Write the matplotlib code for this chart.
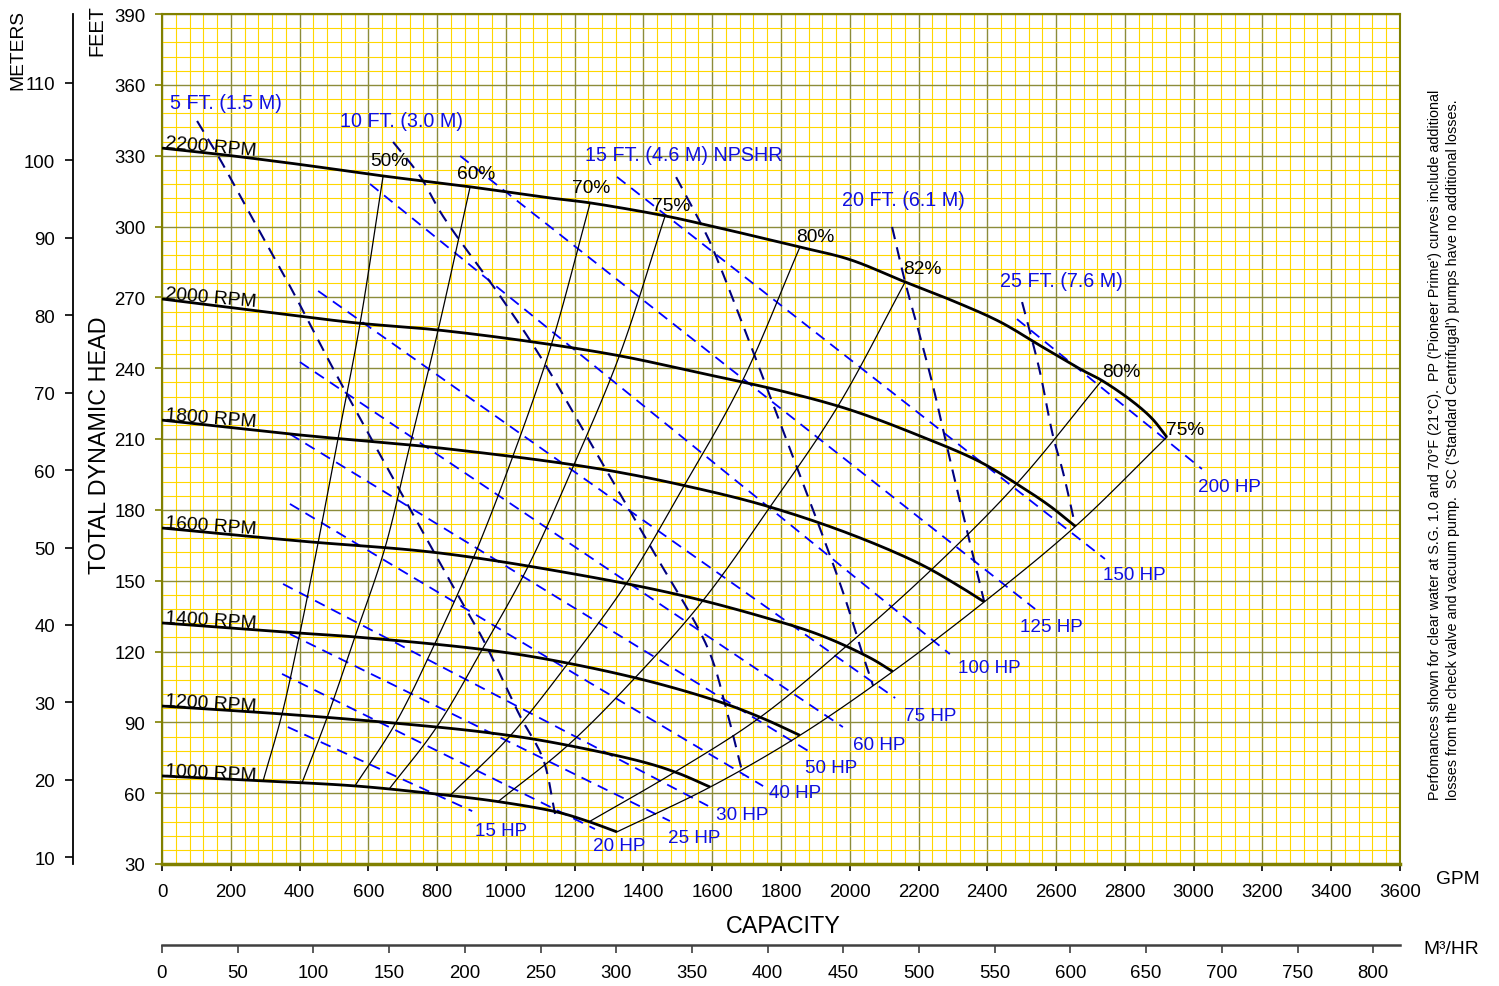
import matplotlib
matplotlib.use("Agg")
import matplotlib.pyplot as plt
import numpy as np

plt.rcParams['font.family'] = ['Liberation Sans', 'DejaVu Sans']

W, H = 1499, 987

# head / capacity curves, GPM and feet
speeds = ["2200 RPM", "2000 RPM", "1800 RPM", "1600 RPM", "1400 RPM", "1200 RPM", "1000 RPM"]
q2200 = [0, 160, 400, 643, 896, 1128, 1245, 1463, 1573, 1855, 2000, 2161, 2300, 2437, 2560, 2678, 2733, 2824, 2880, 2922]
h2200 = [333.2, 330.7, 326.3, 321.4, 316.8, 312.1, 310.0, 304.5, 301.0, 291.3, 286.0, 276.5, 268.5, 259.6, 249.0, 239.0, 234.8, 225.7, 218.5, 210.8]
q2000 = [0, 401, 576, 800, 1079, 1332, 1564, 1797, 2000, 2204, 2379, 2495, 2582, 2656]
h2000 = [269.3, 262.0, 259.0, 256.2, 251.1, 245.2, 238.0, 230.5, 222.4, 211.3, 200.3, 190.1, 181.6, 173.0]
q1800 = [0, 401, 808, 1274, 1564, 1768, 2000, 2204, 2320, 2391]
h1800 = [218.0, 211.7, 206.2, 197.3, 188.8, 181.2, 169.8, 157.1, 147.5, 141.0]
q1600 = [0, 401, 808, 1215, 1506, 1739, 1913, 2059, 2125]
h1600 = [172.3, 166.8, 161.7, 152.4, 143.9, 135.0, 127.0, 117.3, 111.5]
q1400 = [0, 401, 567, 925, 1128, 1400, 1623, 1750, 1855]
h1400 = [132.1, 127.8, 126.1, 121.0, 116.5, 108.0, 98.6, 91.5, 84.5]
q1200 = [0, 352, 643, 933, 1128, 1399, 1500, 1594]
h1200 = [96.9, 93.5, 90.1, 85.9, 81.7, 73.2, 68.5, 62.6]
q1000 = [0, 294, 567, 800, 983, 1149, 1236, 1323]
h1000 = [67.3, 65.2, 63.0, 59.6, 56.3, 52.0, 48.2, 43.6]
curves_q = [q2200, q2000, q1800, q1600, q1400, q1200, q1000]
curves_h = [h2200, h2000, h1800, h1600, h1400, h1200, h1000]
rpm_rot = [-5, -5, -4.5, -4, -3.5, -3.5, -3]

# efficiency lines: GPM where each crosses the speed curves (2200 ... 1000 RPM)
eff_labels = ["50%", "60%", "70%", "75%", "80%", "82%", "80%", "75%"]
eff_q = [
    [643, 576, 512, 454, 401, 349, 294],
    [896, 803, 721, 648, 561, 480, 407],
    [1245, 1132, 1019, 905, 792, 679, 561],
    [1463, 1330, 1197, 1064, 931, 798, 660],
    [1855, 1686, 1518, 1349, 1180, 1012, 837],
    [2161, 1965, 1768, 1572, 1375, 1179, 977],
    [2733, 2485, 2236, 1988, 1739, 1491, 1242],
    [2922, 2656, 2391, 2125, 1855, 1594, 1323],
]
eff_off = [(6, 15), (6, 13), (1, 15), (6, 10), (15, 11), (17, 13), (19, 9), (18, 8)]

# NPSHR lines
npsh_labels = ["5 FT. (1.5 M)", "10 FT. (3.0 M)", "15 FT. (4.6 M) NPSHR", "20 FT. (6.1 M)", "25 FT. (7.6 M)"]
npsh5_q = [102, 160, 256, 381, 509, 867, 933, 1041, 1108, 1143]
npsh5_h = [344.7, 330.7, 305.3, 272.3, 236.7, 142.2, 125.3, 92.7, 74.5, 51.2]
npsh10_q = [672, 750, 817, 983, 1099, 1265, 1428, 1588, 1643, 1690]
npsh10_h = [335.8, 321.4, 304.4, 270.6, 245.2, 203.6, 162.6, 121.1, 94.4, 67.3]
npsh15_q = [1495, 1573, 1602, 1826, 1977, 2039, 2068]
npsh15_h = [320.9, 299.5, 290.5, 205.8, 146.5, 118.1, 105.4]
npsh20_q = [2123, 2161, 2204, 2242, 2271, 2300, 2391]
npsh20_h = [299.8, 276.5, 253.6, 232.4, 214.2, 196.0, 141.0]
npsh25_q = [2501, 2524, 2553, 2591, 2620, 2656]
npsh25_h = [268.0, 255.3, 238.4, 211.3, 196.0, 173.0]
npsh_q = [npsh5_q, npsh10_q, npsh15_q, npsh20_q, npsh25_q]
npsh_h = [npsh5_h, npsh10_h, npsh15_h, npsh20_h, npsh25_h]
npsh_off = [(-27, 18), (-53, 21), (-91, 23), (-50, 27), (-22, 22)]

# horsepower lines: start and end points
hp_labels = ["15 HP", "20 HP", "25 HP", "30 HP", "40 HP", "50 HP", "60 HP", "75 HP",
             "100 HP", "125 HP", "150 HP", "200 HP"]
hp_q0 = [366, 349, 372, 352, 372, 372, 401, 454, 605, 867, 1323, 2486]
hp_h0 = [88.0, 110.5, 127.4, 148.6, 182.5, 212.1, 242.6, 272.7, 318.0, 329.9, 321.0, 260.8]
hp_q1 = [902, 1259, 1477, 1588, 1748, 1879, 1980, 2132, 2291, 2539, 2742, 3024]
hp_h1 = [52.4, 44.8, 48.2, 54.6, 63.0, 77.9, 88.0, 100.3, 118.9, 138.0, 159.2, 197.3]
hp_off = [(3, -19), (-2, -16), (-2, -16), (8, -9), (6, -6), (-3, -17), (10, -17), (9, -17),
          (8, -13), (-15, -17), (-2, -16), (-4, -18)]

gpm_ticks = np.arange(0, 3601, 200)
ft_ticks = np.arange(30, 391, 30)
m_ticks = np.arange(10, 111, 10)
m3h_ticks = np.arange(0, 801, 50)


def smooth(xs, ys, n=16):
    # smoothed line through the points (centripetal Catmull-Rom), like the spreadsheet original
    sx, sy = 1238 / 3600, 850 / 360
    P = np.column_stack([np.asarray(xs, float) * sx, np.asarray(ys, float) * sy])
    if len(P) < 3:
        return P[:, 0] / sx, P[:, 1] / sy
    P = np.vstack([2 * P[0] - P[1], P, 2 * P[-1] - P[-2]])
    out = [P[1]]
    for i in range(1, len(P) - 2):
        p0, p1, p2, p3 = P[i - 1], P[i], P[i + 1], P[i + 2]
        t0 = 0.0
        t1 = t0 + np.linalg.norm(p1 - p0) ** 0.5
        t2 = t1 + np.linalg.norm(p2 - p1) ** 0.5
        t3 = t2 + np.linalg.norm(p3 - p2) ** 0.5
        t = np.linspace(t1, t2, n)[1:, None]
        a1 = (t1 - t) / (t1 - t0) * p0 + (t - t0) / (t1 - t0) * p1
        a2 = (t2 - t) / (t2 - t1) * p1 + (t - t1) / (t2 - t1) * p2
        a3 = (t3 - t) / (t3 - t2) * p2 + (t - t2) / (t3 - t2) * p3
        b1 = (t2 - t) / (t2 - t0) * a1 + (t - t0) / (t2 - t0) * a2
        b2 = (t3 - t) / (t3 - t1) * a2 + (t - t1) / (t3 - t1) * a3
        c = (t2 - t) / (t2 - t1) * b1 + (t - t1) / (t2 - t1) * b2
        out.extend(c)
    out = np.array(out)
    return out[:, 0] / sx, out[:, 1] / sy


fig = plt.figure(figsize=(W / 100, H / 100), dpi=100)
ax = fig.add_axes([162 / W, 1 - 865 / H, 1238 / W, 850 / H])
ax.set_xlim(0, 3600)
ax.set_ylim(30, 390)
ax.set_xticks(gpm_ticks)
ax.set_xticks(np.arange(0, 3601, 40), minor=True)
ax.set_yticks(ft_ticks)
ax.set_yticks(np.arange(30, 391, 6), minor=True)
ax.grid(which='minor', color='#FFD700', lw=0.8)
ax.grid(which='major', color='#8c8c3a', lw=1.0)
ax.set_axisbelow(True)
ax.tick_params(which='minor', length=0)
ax.tick_params(axis='x', which='major', length=5, width=1.2, color='black', labelsize=13.4, pad=9)
ax.tick_params(axis='y', which='major', length=5, width=1.2, color='#808000', labelsize=13.4, pad=7)
for s in ax.spines.values():
    s.set_color('#808000')
    s.set_linewidth(1.5)
ax.spines['bottom'].set_linewidth(2.5)

# horsepower lines
dash = (0, (6, 4))
for lab, q0, h0, q1, h1, off in zip(hp_labels, hp_q0, hp_h0, hp_q1, hp_h1, hp_off):
    ax.plot([q0, q1], [h0, h1], color='#0000FF', lw=1.3, linestyle=dash, zorder=3)
    ax.annotate(lab, (q1, h1), xytext=off, textcoords='offset pixels',
                ha='left', va='center', color='#1010E0', fontsize=13.6, zorder=6)

# NPSHR lines
for lab, q, h, off in zip(npsh_labels, npsh_q, npsh_h, npsh_off):
    ax.plot(*smooth(q, h), color='#000080', lw=1.5, linestyle=dash, zorder=3)
    ax.annotate(lab, (q[0], h[0]), xytext=off, textcoords='offset pixels',
                ha='left', va='center', color='#1010E0', fontsize=14.2, zorder=6)

# efficiency lines
for lab, qs, off in zip(eff_labels, eff_q, eff_off):
    hs = [np.interp(q, cq, ch) for q, cq, ch in zip(qs, curves_q, curves_h)]
    ax.plot(*smooth(qs, hs), color='black', lw=0.9, zorder=4)
    ax.annotate(lab, (qs[0], hs[0]), xytext=off, textcoords='offset pixels',
                ha='center', va='center', color='black', fontsize=13.8, zorder=6)

# head curves
for lab, cq, ch, rot in zip(speeds, curves_q, curves_h, rpm_rot):
    ax.plot(*smooth(cq, ch), color='black', lw=2.0, zorder=5, solid_capstyle='butt')
    ax.annotate(lab, (cq[0], ch[0]), xytext=(3, 1), textcoords='offset pixels',
                ha='left', va='baseline', rotation=rot, rotation_mode='anchor',
                color='black', fontsize=13.9, zorder=6)

# meters axis on the far left
secy = ax.secondary_yaxis(-(162 - 73) / 1238, functions=(lambda f: f / 3.2808, lambda m: m * 3.2808))
secy.set_yticks(m_ticks)
secy.spines['left'].set_color('black')
secy.spines['left'].set_linewidth(1.3)
secy.tick_params(length=6, width=1.2, labelsize=13.4, pad=7)

# m3/hr axis under the GPM axis
secx = ax.secondary_xaxis(-(946 - 865) / 850, functions=(lambda g: g * 0.22712, lambda m: m / 0.22712))
secx.set_xticks(m3h_ticks)
secx.spines['bottom'].set_color('#404040')
secx.spines['bottom'].set_linewidth(1.8)
secx.tick_params(length=6, width=1.2, color='#404040', labelsize=13.4, pad=8)

fig.text(783 / W, 1 - 927 / H, "CAPACITY", ha='center', va='center', fontsize=16.8)
fig.text(1458 / W, 1 - 880 / H, "GPM", ha='center', va='center', fontsize=13.8)
fig.text(1451 / W, 1 - 950 / H, "M\u00b3/HR", ha='center', va='center', fontsize=13.8)
fig.text(100 / W, 1 - 445 / H, "TOTAL DYNAMIC HEAD", rotation=90, ha='center', va='center', fontsize=16.8)
fig.text(97 / W, 1 - 31 / H, "FEET", rotation=90, ha='center', va='center', fontsize=14.4)
fig.text(18 / W, 1 - 50 / H, "METERS", rotation=90, ha='center', va='center', fontsize=13.8)

note1 = "Perfomances shown for clear water at S.G. 1.0 and 70\u00b0F (21\u00b0C).  PP ('Pioneer Prime') curves include additional"
note2 = "losses from the check valve and vacuum pump.  SC ('Standard Centrifugal') pumps have no additional losses."
fig.text(1435 / W, 1 - 800 / H, note1, rotation=90, ha='center', va='bottom', fontsize=10.4)
fig.text(1453 / W, 1 - 800 / H, note2, rotation=90, ha='center', va='bottom', fontsize=10.4)

fig.savefig("out.png", dpi=100)
